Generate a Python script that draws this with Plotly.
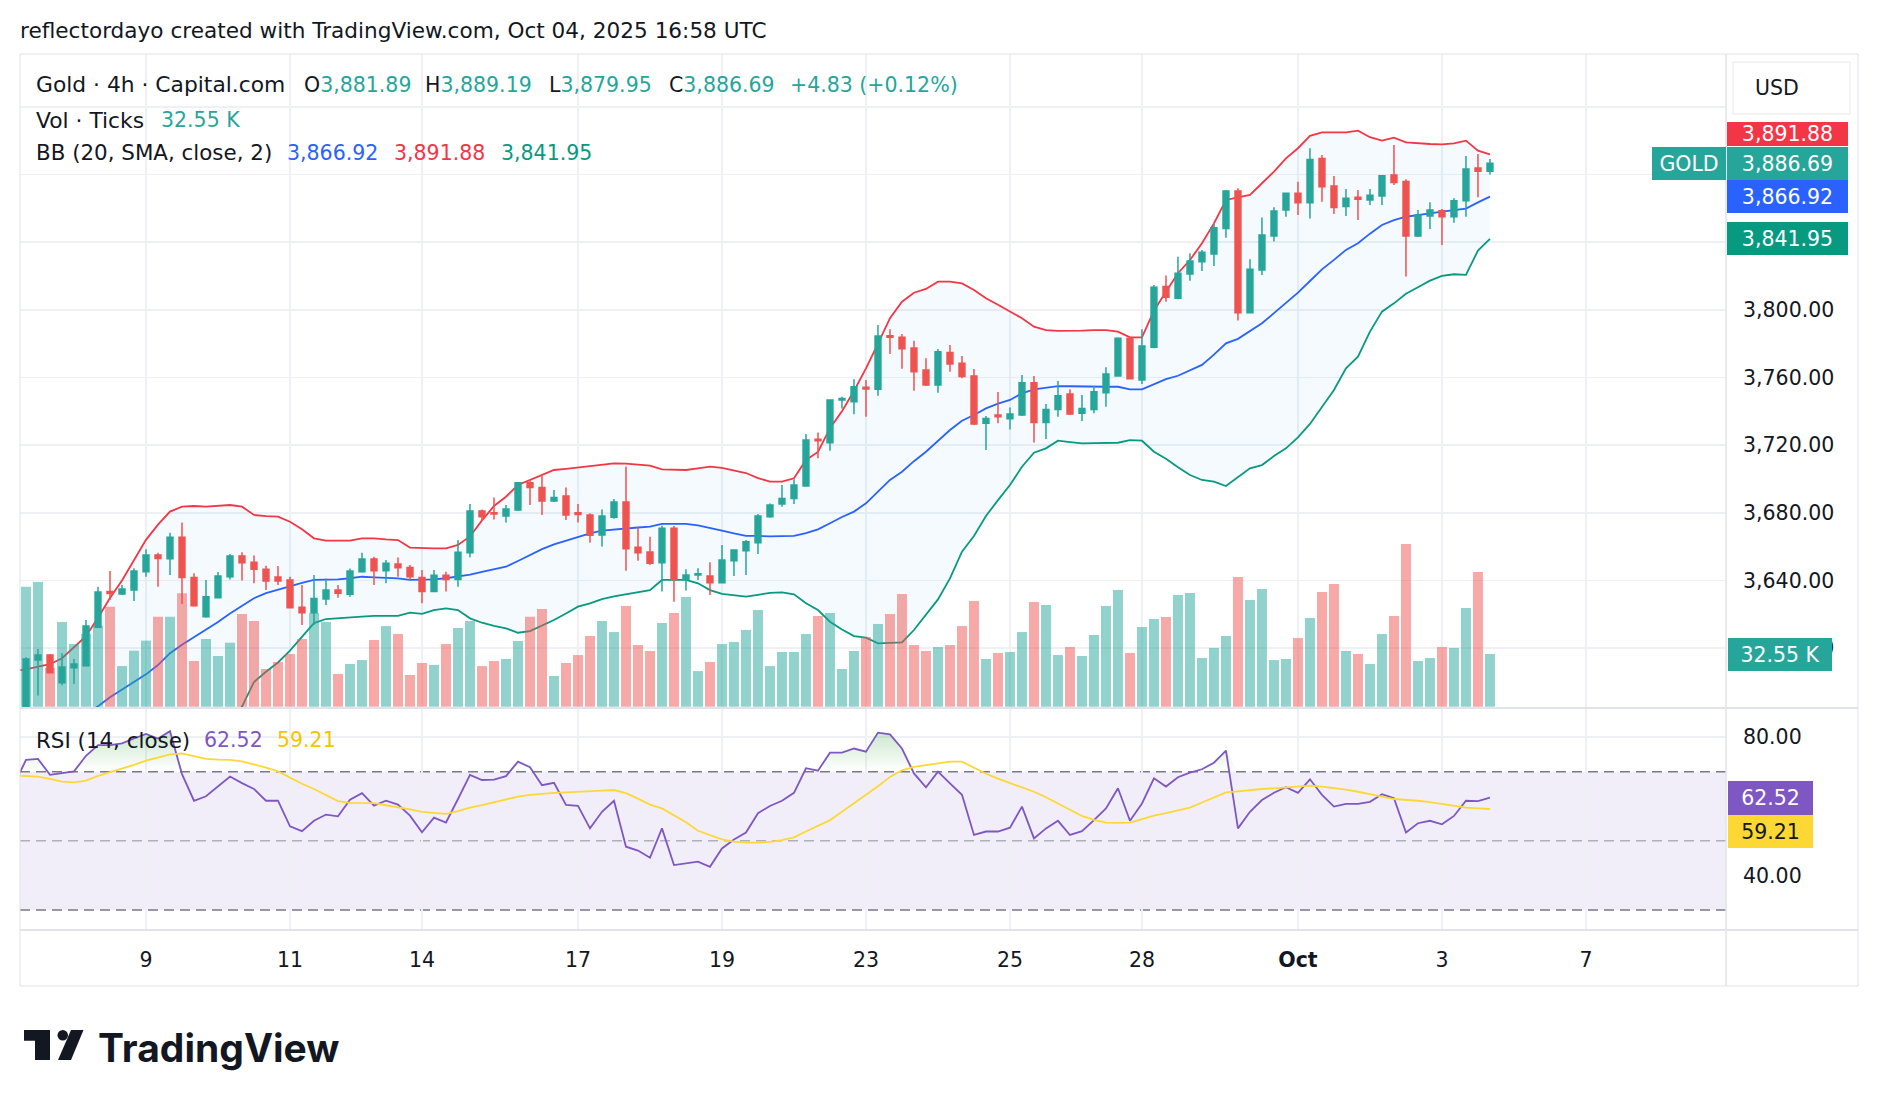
import plotly.graph_objects as go

# ---------------- data ----------------
bar_index = list(range(123))

opens = [3562, 3593, 3596, 3579.5, 3588.4, 3589.6, 3612.3, 3633.4, 3632, 3634.3,
         3645.2, 3655, 3652.9, 3665.5, 3641.8, 3618.6, 3629.8, 3642.2, 3654.4, 3650.7,
         3646.6, 3642, 3640.3, 3624.1, 3620.9, 3629, 3634.3, 3631.8, 3645.2, 3652.7,
         3645.8, 3649.7, 3647.7, 3641.8, 3633.4, 3643, 3640.6, 3656.4, 3681, 3680,
         3678.1, 3681.6, 3697.8, 3695, 3687, 3689.9, 3680, 3678.7, 3666.9, 3677.3,
         3686.4, 3659.6, 3656.8, 3650.5, 3670.8, 3640.6, 3643.2, 3642.6, 3638.7, 3651.7,
         3657.6, 3662.3, 3677.7, 3685.2, 3688.5, 3695.8, 3723.4, 3721.4, 3746.7, 3745.7,
         3754.2, 3753, 3784.7, 3783.7, 3777.4, 3764.4, 3755.5, 3774.8, 3768.4, 3760.9,
         3732.9, 3737.8, 3735.6, 3737.8, 3756.9, 3733.3, 3741.1, 3750.2, 3738.8, 3741.1,
         3751, 3760.9, 3783.1, 3758.5, 3777.8, 3813.7, 3806.8, 3821.1, 3828.4, 3833,
         3848.1, 3870.2, 3798.3, 3823.5, 3843.6, 3859, 3868.9, 3863.3, 3889.5, 3873.2,
         3861, 3866.5, 3864.9, 3867.3, 3879.7, 3875.8, 3843.6, 3855.5, 3858.6, 3855,
         3864.5, 3883.8, 3881.89]
highs = [3594.6, 3599.5, 3596.5, 3597, 3593.6, 3616.6, 3636.3, 3645.6, 3637.3, 3647.2,
         3658.4, 3656.4, 3668.2, 3674.2, 3644.2, 3640.2, 3645, 3655.6, 3656.6, 3654.8,
         3648.7, 3648.5, 3642.2, 3637.3, 3643.2, 3641.2, 3637.3, 3647, 3656.4, 3654,
         3652.1, 3653.6, 3649.1, 3646.2, 3646.2, 3645.2, 3663.9, 3685.2, 3682, 3689.1,
         3684.6, 3698.2, 3699.4, 3702.9, 3693.5, 3695, 3685.2, 3679.7, 3682, 3688.1,
         3707.3, 3671.8, 3665.9, 3672.4, 3672.2, 3646.6, 3647.2, 3650.7, 3661, 3658.5,
         3663.9, 3679.3, 3685.5, 3696.4, 3699.8, 3726.6, 3727.4, 3747.1, 3748.6, 3758.9,
         3758.5, 3791, 3788.5, 3785.7, 3781.7, 3771.3, 3776.8, 3779.2, 3772.7, 3765,
         3737.2, 3751.4, 3742.3, 3761.4, 3760.9, 3744.3, 3757.9, 3753, 3749.6, 3754.9,
         3766, 3783.7, 3783.7, 3788.5, 3814.6, 3820.2, 3831.4, 3833.4, 3835.4, 3851.1,
         3870.8, 3871.8, 3829.8, 3854.6, 3860.6, 3869.2, 3875.7, 3895.5, 3891.5, 3879.1,
         3871.4, 3870.8, 3871.4, 3879.7, 3897.4, 3877.1, 3859, 3863.5, 3859.6, 3865.9,
         3890.9, 3892.1, 3889.19]
lows = [3558, 3572, 3585, 3578, 3578.8, 3589, 3611.7, 3628.4, 3631.4, 3627.8,
        3642.2, 3636.3, 3643.2, 3626.1, 3624.5, 3618, 3629.5, 3640.6, 3639.9, 3638.3,
        3634.3, 3637.3, 3623.5, 3613.7, 3613.7, 3625.5, 3629.8, 3630.4, 3644.6, 3637.3,
        3638.3, 3642.2, 3640.6, 3626.5, 3633, 3633.4, 3636.3, 3653.7, 3675.3, 3676.1,
        3674.2, 3681, 3684.6, 3678.7, 3686.4, 3675.7, 3674.2, 3662.3, 3660, 3676.5,
        3645.8, 3651.7, 3649.1, 3633.4, 3627.4, 3634, 3640.2, 3631.4, 3638.5, 3642.6,
        3643.2, 3655.6, 3677, 3683.6, 3685.2, 3695.4, 3712.2, 3716.7, 3741.7, 3738.2,
        3736.8, 3749.2, 3773.9, 3765.2, 3752.2, 3754.9, 3751, 3763.4, 3759.5, 3731.9,
        3717.1, 3732.9, 3729.3, 3737.2, 3721.6, 3723.6, 3736.8, 3737.8, 3734.3, 3738.8,
        3742.7, 3760.5, 3759, 3756.1, 3777.2, 3804.8, 3806.2, 3817.2, 3822.9, 3825.9,
        3842.6, 3793.6, 3798, 3820.6, 3840.3, 3855, 3856, 3853.9, 3863.9, 3856.6,
        3855.5, 3853.1, 3862, 3862, 3873.8, 3819.6, 3843, 3847.8, 3838.3, 3851.5,
        3855, 3866.5, 3879.95]
closes = [3593.6, 3596, 3585.5, 3588.8, 3590.6, 3613, 3633.2, 3632.3, 3635, 3645.6,
          3655, 3653, 3665.5, 3641.8, 3625.1, 3630.4, 3642.6, 3654.4, 3650.5, 3646.6,
          3639.7, 3639.7, 3623.9, 3620.9, 3629.4, 3634.3, 3632.4, 3645.6, 3652.7, 3645.8,
          3650.1, 3647.5, 3642.2, 3633.4, 3643, 3640.6, 3656.6, 3681, 3677.7, 3679.3,
          3682.2, 3697.8, 3694.9, 3687, 3689.1, 3678.7, 3679, 3666.7, 3678.1, 3686.4,
          3658.8, 3656.4, 3650.1, 3670.8, 3640.6, 3643.2, 3644, 3638.7, 3652.1, 3658,
          3662.9, 3678.1, 3684.6, 3688.5, 3696.4, 3723, 3722.6, 3746.7, 3747.5, 3754.5,
          3753.2, 3784.5, 3783.7, 3777, 3763.4, 3755.5, 3775.2, 3768, 3760.5, 3732.5,
          3735.8, 3736.8, 3738.4, 3756.9, 3733.3, 3741.1, 3749.2, 3738.4, 3741.7, 3751.6,
          3762, 3783.1, 3759.3, 3778.6, 3813.3, 3807.4, 3821.6, 3828.9, 3834, 3848.5,
          3870.2, 3798.3, 3823.9, 3844.2, 3858.4, 3868.9, 3863.3, 3888.9, 3872.8, 3860.4,
          3865.9, 3865.3, 3867.7, 3879.3, 3875.2, 3843.6, 3856, 3859, 3855, 3864.5,
          3883.2, 3881.86, 3886.69]
volume_k = [74.1, 77, 24, 52.3, 38.7, 45, 50, 61.8, 25.1, 34.6,
            40.8, 55.6, 55.6, 70, 28.2, 41.8, 31.3, 39.5, 57.3, 52.9,
            23.3, 27.6, 32.6, 41.8, 57.8, 52.3, 20.2, 26.4, 28.8, 41.2,
            49.8, 44.9, 19.6, 27, 25.8, 38.7, 48.6, 52.9, 25.1, 28.2,
            29.5, 40.6, 55.6, 60.3, 19, 27, 31.9, 43.7, 52.9, 46.1,
            62.2, 38.1, 34.4, 51.7, 57.9, 67.8, 22, 27.6, 38.7, 40,
            47.4, 59.7, 25.1, 33.8, 33.8, 44.9, 56, 57.9, 23.3, 34.4,
            43, 51.1, 57.3, 69.6, 38.1, 34.4, 36.9, 38.1, 49.8, 65.3,
            29.5, 33.2, 33.8, 46.1, 64.7, 62.8, 31.9, 36.9, 31.3, 44.3,
            62.2, 72.1, 33.2, 49.2, 54.2, 55.4, 69, 70.2, 30.1, 36.3,
            43.7, 80.1, 65.9, 72.7, 28.8, 29.5, 42.4, 54.8, 70.8, 75.8,
            34.4, 32.6, 26.4, 44.9, 56, 100.5, 28.2, 30.1, 36.9, 36.3,
            61, 83.2, 32.55]

# Bollinger Bands (20, SMA, close, 2)
bb_upper_x = list(range(-1, 123))
bb_upper = [3586.5, 3587.5, 3589, 3590.5, 3594, 3600.8, 3607, 3618, 3629.6, 3640,
            3652, 3664, 3673, 3680.7, 3683.6, 3684, 3683.6, 3684.2, 3684.6, 3683.6,
            3678.7, 3678, 3677.7, 3674.7, 3670.2, 3664.9, 3663.5, 3663.5, 3663.5, 3664.9,
            3664.9, 3664.3, 3663.9, 3659.4, 3659, 3659, 3659, 3661, 3666, 3675.5,
            3684, 3689.5, 3696.4, 3699.4, 3702.5, 3705.3, 3706, 3706.7, 3707.5, 3708.5,
            3709.2, 3709, 3708.5, 3707.9, 3705.7, 3705.3, 3705.3, 3706.3, 3707.3, 3706.5,
            3705, 3703.5, 3700.5, 3698.4, 3698.4, 3700.4, 3711.2, 3716, 3730, 3740,
            3752, 3765.4, 3780, 3795, 3804.8, 3810.1, 3812.3, 3816.6, 3816.6, 3815.6,
            3811.7, 3806.8, 3803, 3798.9, 3795, 3790, 3788, 3787.5, 3787.5, 3787.7,
            3788, 3788, 3787.1, 3783.7, 3783.7, 3799.5, 3810.7, 3821.6, 3829.4, 3839.3,
            3851.1, 3864.9, 3866.5, 3867.9, 3874.8, 3881.7, 3889.5, 3895.5, 3902.8, 3904.9,
            3904.9, 3904.9, 3905.9, 3902, 3900, 3901.8, 3899, 3898.4, 3898, 3897.8,
            3898.4, 3900, 3894.1, 3891.88]
bb_mid_x = [-1] + list(range(5, 123))
bb_mid = [3535,
          3561, 3565.6, 3571, 3575.5, 3579.5, 3584.5, 3590, 3597, 3602, 3606.5,
          3610.7, 3615.5, 3620.5, 3625, 3629.5, 3632.5, 3634.5, 3636.8, 3638.5, 3640.3,
          3640.5, 3640.6, 3641.3, 3642.2, 3641.8, 3641.5, 3641.2, 3640.3, 3640.4, 3640.6,
          3641.3, 3642.2, 3643.5, 3645, 3646.5, 3648.1, 3651.5, 3655, 3658.5, 3661.3,
          3663.5, 3665.9, 3667.8, 3669.5, 3670.2, 3670.8, 3671.3, 3671.8, 3673.4, 3673.4,
          3673.4, 3672.5, 3671.2, 3669.5, 3667.8, 3666.3, 3666.3, 3666, 3666.2, 3666.3,
          3668, 3670.2, 3673.8, 3677.5, 3680.7, 3685.6, 3692.5, 3699.4, 3704.3, 3710.5,
          3716.1, 3722.5, 3728.9, 3734.4, 3737.8, 3741.7, 3744.5, 3746.7, 3750.6, 3753,
          3754, 3754.9, 3754.8, 3754.6, 3754.5, 3754.5, 3754.5, 3753, 3753, 3756,
          3759, 3761, 3764, 3767.4, 3773.5, 3780.2, 3782.8, 3787.5, 3792, 3798,
          3804, 3810.1, 3817, 3823.9, 3829.5, 3835.4, 3839.3, 3845, 3850.1, 3853,
          3855, 3855.8, 3857, 3858, 3859, 3859.8, 3863.5, 3866.92]
bb_lower_x = [-1, 10, 15, 17] + list(range(18, 123))
bb_lower = [3505, 3520, 3545, 3558,
            3565.4, 3580, 3586, 3591.5, 3598.5, 3606.5, 3614.8, 3617.2, 3617.8, 3618.2,
            3618.6, 3619, 3619, 3619.1, 3621, 3620.2, 3622.5, 3623.5, 3622.5, 3617.6,
            3615, 3613.1, 3611.7, 3609.1, 3610.1, 3613.5, 3616.6, 3620.5, 3624.5, 3626.5,
            3629, 3630.6, 3631.8, 3633, 3634.3, 3640.3, 3640.3, 3640.3, 3638.3, 3634.3,
            3632, 3631, 3630.4, 3631.5, 3632.7, 3633, 3631.8, 3626.5, 3622.5, 3615.6,
            3611, 3607.1, 3606.2, 3602.8, 3603, 3603.4, 3610.7, 3619.5, 3628.8, 3641.2,
            3657, 3666.3, 3678.1, 3687.5, 3696.4, 3707.2, 3715.5, 3718.1, 3722.6, 3721.8,
            3721, 3721.2, 3721.3, 3721.4, 3723, 3722.6, 3716.1, 3712, 3706.9, 3702.3,
            3699.4, 3698.4, 3695.8, 3701, 3706.3, 3708.2, 3713.5, 3718.1, 3724.6, 3732.5,
            3742.5, 3752.6, 3765.4, 3772.3, 3787.1, 3798.9, 3803.8, 3809.5, 3813.3, 3817.2,
            3820, 3821, 3820.6, 3835, 3841.95]

# RSI (14, close) and its moving average
rsi_x = list(range(-1, 123))
rsi = [66.2, 73.4, 73.7, 69.1, 69.6, 70.1, 74.6, 77.7, 77.7, 78.2,
       79.6, 80.9, 79.6, 81.7, 69.3, 61.6, 62.9, 65.8, 68.6, 66.7,
       65, 61.6, 61.6, 54.2, 52.8, 55.8, 57.6, 57.1, 61.9, 63.8,
       60.2, 61.6, 60.5, 57.3, 52.5, 56.7, 55.3, 62.1, 69.1, 67.6,
       67.7, 68.7, 72.9, 71.3, 66.1, 66.8, 60.4, 60.1, 53.6, 58.4,
       61.6, 48.3, 47.2, 45.1, 53.6, 43, 43.5, 44, 42.5, 47.8,
       50.4, 52.4, 58, 60.1, 61.6, 63.9, 71, 70.3, 75.5, 75.5,
       76.7, 75.8, 81.3, 80.8, 76.7, 69.5, 65.5, 70, 66.6, 63.3,
       51.7, 52.7, 52.7, 53.8, 59.9, 50.7, 53.6, 55.8, 51.7, 52.8,
       56, 59.4, 65.2, 55.8, 60.8, 68.1, 65.7, 68.4, 69.7, 70.7,
       72.6, 76.1, 53.6, 58.4, 61.8, 63.9, 65.5, 63.9, 67.8, 63.3,
       59.9, 60.7, 60.7, 61.3, 63.5, 62.3, 52.4, 55.1, 55.8, 54.8,
       57.2, 61.6, 61.5, 62.52]
rsi_ma = [68.9, 68.8, 68.6, 67.9, 67.1, 66.9, 67.4, 68.8, 69.8, 70.8,
          72, 73.2, 74.2, 75, 75.3, 74.6, 73.7, 73.5, 73.4, 73,
          72.2, 71.2, 70.1, 68.3, 66.5, 65, 63.2, 61.5, 61, 60.9,
          60.9, 60.3, 59.8, 59.1, 58.4, 58, 57.8, 58.6, 59.6, 60.3,
          61.2, 62, 62.8, 63.3, 63.7, 63.9, 64, 64.1, 64.2, 64.5,
          64.7, 63.8, 62.2, 60.5, 59.4, 57.5, 55.4, 52.9, 51.7, 50.4,
          49.8, 49.5, 49.5, 49.7, 50.2, 51, 52.7, 54.3, 56, 58.4,
          60.8, 63.3, 65.8, 68.5, 70.4, 71.4, 71.9, 72.5, 72.9, 72.9,
          71.1, 69.4, 68, 66.8, 65.6, 64.2, 62.6, 60.8, 58.8, 57.2,
          56.1, 55.3, 55.2, 55.3, 56.3, 57.3, 58, 58.8, 59.6, 61.1,
          62.5, 64, 64.3, 64.7, 65, 65.2, 65.5, 65.7, 66, 65.7,
          65.3, 64.8, 64.2, 63.6, 62.8, 62.1, 61.9, 61.6, 61.2, 60.7,
          60.1, 59.6, 59.4, 59.21]

date_ticks = [10, 22, 33, 46, 58, 70, 82, 93, 106, 118, 130]
date_labels = ["9", "11", "14", "17", "19", "23", "25", "28", "Oct", "3", "7"]
price_ticks = [3600, 3640, 3680, 3720, 3760, 3800, 3840, 3880, 3920]
price_ticks_hidden = [3840, 3880, 3920]
rsi_ticks = [40, 60, 80]
rsi_ticks_hidden = [60]
rsi_levels = [70, 50, 30]

last_open, last_high, last_low, last_close = 3881.89, 3889.19, 3879.95, 3886.69
change, change_pct = 4.83, 0.12
last_volume_label = "32.55 K"

# ---------------- layout constants (pixels) ----------------
W, H = 1878, 1106
FONT = "'DejaVu Sans', Verdana, sans-serif"
FS = 20.5
FS_LABEL = 21.4
TXT = "#131722"
UP, DOWN = "#26a69a", "#ef5350"
GRID = "#eef0f4"
FRAME = "#e0e3eb"
LEFT, PLOT_R, RIGHT = 20, 1726, 1858
TOP, MAIN_B, RSI_T, RSI_B, AX_B = 54, 708, 709, 930, 986
X_RANGE = [-0.5, 141.67]
PRICE_RANGE = [3564.6, 3951.2]
VOL_RANGE = [-0.8, 403.1]
RSI_RANGE = [24.22, 88.13]


def PX(x):
    return x / W


def PY(y):
    return 1 - y / H


fig = go.Figure()

# Bollinger bands
fig.add_trace(go.Scatter(x=bb_upper_x, y=bb_upper, mode="lines",
                         line=dict(color="#f23645", width=1.8),
                         xaxis="x", yaxis="y", hoverinfo="skip"))
fig.add_trace(go.Scatter(x=bb_lower_x, y=bb_lower, mode="lines",
                         line=dict(color="#089981", width=1.8),
                         fill="tonexty", fillcolor="rgba(33,150,243,0.05)",
                         xaxis="x", yaxis="y", hoverinfo="skip"))
fig.add_trace(go.Scatter(x=bb_mid_x, y=bb_mid, mode="lines",
                         line=dict(color="#2962ff", width=1.8),
                         xaxis="x", yaxis="y", hoverinfo="skip"))

# Volume
vol_colors = ["rgba(38,166,154,0.5)" if c >= o else "rgba(239,83,80,0.5)"
              for o, c in zip(opens, closes)]
fig.add_trace(go.Bar(x=bar_index, y=volume_k, marker=dict(color=vol_colors, line=dict(width=0)),
                     xaxis="x", yaxis="y2", hoverinfo="skip"))

# Candles
fig.add_trace(go.Candlestick(x=bar_index, open=opens, high=highs, low=lows, close=closes,
                             increasing=dict(line=dict(color=UP, width=1.5), fillcolor=UP),
                             decreasing=dict(line=dict(color=DOWN, width=1.5), fillcolor=DOWN),
                             whiskerwidth=0, xaxis="x", yaxis="y3", hoverinfo="skip"))

# RSI overbought fill
ob_level = rsi_levels[0]
fig.add_trace(go.Scatter(x=rsi_x, y=[ob_level] * len(rsi_x), mode="lines",
                         line=dict(width=0, color="rgba(0,0,0,0)"),
                         xaxis="x2", yaxis="y4", hoverinfo="skip"))
fig.add_trace(go.Scatter(x=rsi_x, y=[max(v, ob_level) for v in rsi], mode="lines",
                         line=dict(width=0, color="rgba(0,0,0,0)"), fill="tonexty",
                         fillgradient=dict(type="vertical",
                                           colorscale=[[0, "rgba(76,175,80,0)"], [1, "rgba(76,175,80,0.35)"]],
                                           start=70, stop=84),
                         xaxis="x2", yaxis="y4", hoverinfo="skip"))
fig.add_trace(go.Scatter(x=rsi_x, y=rsi, mode="lines", line=dict(color="#7e57c2", width=1.8),
                         xaxis="x2", yaxis="y4", hoverinfo="skip"))
fig.add_trace(go.Scatter(x=rsi_x, y=rsi_ma, mode="lines", line=dict(color="#fdd835", width=1.8),
                         xaxis="x2", yaxis="y4", hoverinfo="skip"))

price_text = ["" if v in price_ticks_hidden else f"{v:,.2f}" for v in price_ticks]
rsi_text = ["" if v in rsi_ticks_hidden else f"{v:.2f}" for v in rsi_ticks]
date_text = [f"<b>{t}</b>" if t.isalpha() else t for t in date_labels]

xdom = [PX(LEFT), PX(PLOT_R)]
fig.update_layout(
    width=W, height=H, margin=dict(l=0, r=0, t=0, b=0), autosize=False,
    paper_bgcolor="white", plot_bgcolor="white", showlegend=False,
    font=dict(family=FONT, color=TXT, size=FS),
    bargap=0.17,
    xaxis=dict(domain=xdom, range=X_RANGE, anchor="y", showticklabels=False, tickvals=date_ticks,
               showgrid=True, gridcolor=GRID, gridwidth=1.5, zeroline=False, showline=False, ticks="",
               rangeslider=dict(visible=False), fixedrange=True, automargin=False),
    yaxis=dict(domain=[PY(MAIN_B), PY(TOP)], range=PRICE_RANGE, anchor="x", side="right",
               tickvals=price_ticks, ticktext=price_text, tickfont=dict(size=FS, color=TXT),
               showgrid=True, gridcolor=GRID, gridwidth=1.5, zeroline=False, showline=False, ticks="",
               ticklabelstandoff=16, fixedrange=True, automargin=False),
    yaxis2=dict(overlaying="y", anchor="x", range=VOL_RANGE, visible=False, fixedrange=True),
    yaxis3=dict(overlaying="y", anchor="x", range=PRICE_RANGE, visible=False, fixedrange=True),
    xaxis2=dict(domain=xdom, range=X_RANGE, anchor="y4", tickvals=date_ticks, ticktext=date_text,
                tickfont=dict(size=FS, color=TXT), showgrid=True, gridcolor=GRID, gridwidth=1.5,
                zeroline=False, showline=False, ticks="", ticklabelstandoff=15, fixedrange=True,
                automargin=False),
    yaxis4=dict(domain=[PY(RSI_B), PY(RSI_T)], range=RSI_RANGE, anchor="x2", side="right",
                tickvals=rsi_ticks, ticktext=rsi_text, tickfont=dict(size=FS, color=TXT),
                showgrid=True, gridcolor=GRID, gridwidth=1.5, zeroline=False, showline=False, ticks="",
                ticklabelstandoff=16, fixedrange=True, automargin=False),
)

shapes = []
# RSI band background
shapes.append(dict(type="rect", xref="paper", yref="y4", x0=PX(LEFT), x1=PX(PLOT_R),
                   y0=rsi_levels[2], y1=rsi_levels[0], fillcolor="rgba(126,87,194,0.1)",
                   line=dict(width=0), layer="below"))
for lvl in rsi_levels:
    col = "rgba(120,123,134,0.55)" if lvl == 50 else "#787b86"
    shapes.append(dict(type="line", xref="paper", yref="y4", x0=PX(LEFT), x1=PX(PLOT_R),
                       y0=lvl, y1=lvl, line=dict(color=col, width=1.5, dash="10px,6px"), layer="between"))
# frame
shapes.append(dict(type="rect", xref="paper", yref="paper", x0=PX(LEFT), x1=PX(RIGHT),
                   y0=PY(AX_B), y1=PY(TOP), line=dict(color=FRAME, width=1), layer="above"))
shapes.append(dict(type="line", xref="paper", yref="paper", x0=PX(PLOT_R), x1=PX(PLOT_R),
                   y0=PY(AX_B), y1=PY(TOP), line=dict(color=FRAME, width=1.5), layer="above"))
for yy in (MAIN_B, RSI_B):
    shapes.append(dict(type="line", xref="paper", yref="paper", x0=PX(LEFT), x1=PX(RIGHT),
                       y0=PY(yy), y1=PY(yy), line=dict(color=FRAME, width=2), layer="above"))
# USD button
shapes.append(dict(type="rect", xref="paper", yref="paper", x0=PX(1733), x1=PX(1850),
                   y0=PY(114), y1=PY(62), line=dict(color="#e6e8ee", width=1),
                   fillcolor="white", layer="above"))


def ppath(points):
    return "M " + " L ".join(f"{PX(x)},{PY(y)}" for x, y in points) + " Z"


# TradingView logo
shapes.append(dict(type="path", xref="paper", yref="paper",
                   path=ppath([(24, 1030), (50, 1030), (50, 1060), (35, 1060), (35, 1040.7), (24, 1040.7)]),
                   fillcolor=TXT, line=dict(width=0), layer="above"))
shapes.append(dict(type="circle", xref="paper", yref="paper", x0=PX(57.5), x1=PX(68),
                   y0=PY(1040.5), y1=PY(1030), fillcolor=TXT, line=dict(width=0), layer="above"))
shapes.append(dict(type="path", xref="paper", yref="paper",
                   path=ppath([(71, 1030), (83.5, 1030), (71, 1060), (58, 1060)]),
                   fillcolor=TXT, line=dict(width=0), layer="above"))

anns = []


def text(t, x, y, color=TXT, size=FS, anchor="left"):
    anns.append(dict(text=t, x=PX(x), y=PY(y), xref="paper", yref="paper", xanchor=anchor,
                     yanchor="middle", showarrow=False, font=dict(family=FONT, size=size, color=color)))


def tag(t, y, yref, bg, fg, x0, w, h=33, yshift=0):
    anns.append(dict(text=t, x=PX(x0), xref="paper", xanchor="left", y=y, yref=yref, yanchor="middle",
                     showarrow=False, bgcolor=bg, width=w, height=h, borderpad=0, borderwidth=0,
                     align="center", valign="middle", yshift=yshift,
                     font=dict(family=FONT, size=FS, color=fg)))


text("reflectordayo created with TradingView.com, Oct 04, 2025 16:58 UTC", 18, 31, size=21.6)
text("Gold · 4h · Capital.com", 34, 85, size=21.8)
text(f"O<span style='color:{UP}'>{last_open:,.2f}</span>", 302, 85)
text(f"H<span style='color:{UP}'>{last_high:,.2f}</span>", 423, 85)
text(f"L<span style='color:{UP}'>{last_low:,.2f}</span>", 547, 85)
text(f"C<span style='color:{UP}'>{last_close:,.2f}</span>", 667, 85)
text(f"+{change:.2f} (+{change_pct:.2f}%)", 788, 85, color=UP)
text("Vol · Ticks", 34, 120, size=FS_LABEL + 0.4)
text(last_volume_label, 158.5, 120, color=UP)
text("BB (20, SMA, close, 2)", 34, 153, size=FS_LABEL)
text(f"{bb_mid[-1]:,.2f}", 284.5, 153, color="#2962ff")
text(f"{bb_upper[-1]:,.2f}", 391.5, 153, color="#f23645")
text(f"{bb_lower[-1]:,.2f}", 499, 153, color="#089981")
text("RSI (14, close)", 34, 740, size=FS_LABEL)
text(f"{rsi[-1]:.2f}", 201.5, 740, color="#7e57c2")
text(f"{rsi_ma[-1]:.2f}", 274.5, 740, color="#f5c400")
text("USD", 1753, 88)

# price scale tags
tag(f"{bb_upper[-1]:,.2f}", PY(133.5), "paper", "#f23645", "white", 1727, 121, h=24)
tag("GOLD", last_close, "y", UP, "white", 1652, 74)
tag(f"{last_close:,.2f}", last_close, "y", UP, "white", 1727, 121)
tag(f"{bb_mid[-1]:,.2f}", bb_mid[-1], "y", "#2962ff", "white", 1727, 121)
tag(f"{bb_lower[-1]:,.2f}", bb_lower[-1], "y", "#089981", "white", 1727, 121)
tag(last_volume_label, volume_k[-1], "y2", UP, "white", 1728, 104)
tag(f"{rsi[-1]:.2f}", rsi[-1], "y4", "#7e57c2", "white", 1728, 85, h=34)
tag(f"{rsi_ma[-1]:.2f}", rsi_ma[-1], "y4", "#fdd835", TXT, 1728, 85, h=33, yshift=-22.5)

anns.append(dict(text="<b>TradingView</b>", x=PX(96), y=PY(1047), xref="paper", yref="paper",
                 xanchor="left", yanchor="middle", showarrow=False,
                 font=dict(family="Inter, 'Open Sans', sans-serif", size=39, color=TXT)))

fig.update_layout(shapes=shapes, annotations=anns)

fig.write_html("out.html", include_plotlyjs=True, full_html=True,
               config={"staticPlot": True, "displayModeBar": False},
               post_script="document.body.style.margin='0';document.body.style.padding='0';")
